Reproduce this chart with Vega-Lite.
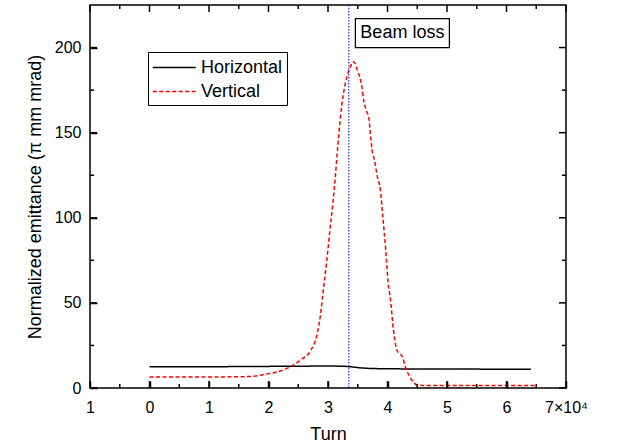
{
  "$schema": "https://vega.github.io/schema/vega-lite/v6.json",
  "width": 476,
  "height": 383,
  "autosize": {"type": "none"},
  "padding": {"left": 90, "top": 5, "right": 57, "bottom": 59},
  "background": "white",
  "config": {
    "view": {"stroke": "black", "strokeWidth": 1.5},
    "font": "Liberation Sans"
  },
  "datasets": {
    "xmaj": [{"v": -1}, {"v": 0}, {"v": 1}, {"v": 2}, {"v": 3}, {"v": 4}, {"v": 5}, {"v": 6}, {"v": 7}],
    "xmin": [{"v": -0.5}, {"v": 0.5}, {"v": 1.5}, {"v": 2.5}, {"v": 3.5}, {"v": 4.5}, {"v": 5.5}, {"v": 6.5}],
    "ymaj": [{"v": 0}, {"v": 50}, {"v": 100}, {"v": 150}, {"v": 200}],
    "ymin": [{"v": 25}, {"v": 75}, {"v": 125}, {"v": 175}],
    "emit": [
      {"turn": 0, "value": 12.5, "series": "Horizontal"},
      {"turn": 0.5, "value": 12.5, "series": "Horizontal"},
      {"turn": 1, "value": 12.5, "series": "Horizontal"},
      {"turn": 1.5, "value": 12.6, "series": "Horizontal"},
      {"turn": 2, "value": 12.7, "series": "Horizontal"},
      {"turn": 2.5, "value": 12.8, "series": "Horizontal"},
      {"turn": 3, "value": 12.9, "series": "Horizontal"},
      {"turn": 3.3, "value": 12.7, "series": "Horizontal"},
      {"turn": 3.5, "value": 12.0, "series": "Horizontal"},
      {"turn": 3.7, "value": 11.5, "series": "Horizontal"},
      {"turn": 4, "value": 11.3, "series": "Horizontal"},
      {"turn": 4.5, "value": 11.2, "series": "Horizontal"},
      {"turn": 5, "value": 11.2, "series": "Horizontal"},
      {"turn": 5.5, "value": 11.1, "series": "Horizontal"},
      {"turn": 6, "value": 11.0, "series": "Horizontal"},
      {"turn": 6.41, "value": 11.0, "series": "Horizontal"},
      {"turn": 0, "value": 6.5, "series": "Vertical"},
      {"turn": 0.5, "value": 6.5, "series": "Vertical"},
      {"turn": 1, "value": 6.5, "series": "Vertical"},
      {"turn": 1.5, "value": 6.6, "series": "Vertical"},
      {"turn": 1.7, "value": 6.8, "series": "Vertical"},
      {"turn": 1.97, "value": 8.2, "series": "Vertical"},
      {"turn": 2.2, "value": 10, "series": "Vertical"},
      {"turn": 2.37, "value": 12.5, "series": "Vertical"},
      {"turn": 2.54, "value": 16.5, "series": "Vertical"},
      {"turn": 2.71, "value": 22, "series": "Vertical"},
      {"turn": 2.82, "value": 32, "series": "Vertical"},
      {"turn": 2.87, "value": 42, "series": "Vertical"},
      {"turn": 2.92, "value": 57, "series": "Vertical"},
      {"turn": 2.98, "value": 75, "series": "Vertical"},
      {"turn": 3.03, "value": 92, "series": "Vertical"},
      {"turn": 3.08, "value": 108, "series": "Vertical"},
      {"turn": 3.12, "value": 123, "series": "Vertical"},
      {"turn": 3.16, "value": 140, "series": "Vertical"},
      {"turn": 3.21, "value": 159.6, "series": "Vertical"},
      {"turn": 3.26, "value": 173, "series": "Vertical"},
      {"turn": 3.32, "value": 183, "series": "Vertical"},
      {"turn": 3.38, "value": 189, "series": "Vertical"},
      {"turn": 3.42, "value": 191.6, "series": "Vertical"},
      {"turn": 3.45, "value": 191, "series": "Vertical"},
      {"turn": 3.49, "value": 187, "series": "Vertical"},
      {"turn": 3.53, "value": 183, "series": "Vertical"},
      {"turn": 3.57, "value": 177, "series": "Vertical"},
      {"turn": 3.6, "value": 169, "series": "Vertical"},
      {"turn": 3.64, "value": 163.5, "series": "Vertical"},
      {"turn": 3.69, "value": 157.6, "series": "Vertical"},
      {"turn": 3.71, "value": 150, "series": "Vertical"},
      {"turn": 3.74, "value": 140, "series": "Vertical"},
      {"turn": 3.78, "value": 134, "series": "Vertical"},
      {"turn": 3.83, "value": 124, "series": "Vertical"},
      {"turn": 3.88, "value": 116.5, "series": "Vertical"},
      {"turn": 3.92, "value": 101, "series": "Vertical"},
      {"turn": 3.97, "value": 81, "series": "Vertical"},
      {"turn": 4.01, "value": 62, "series": "Vertical"},
      {"turn": 4.05, "value": 52, "series": "Vertical"},
      {"turn": 4.1, "value": 34, "series": "Vertical"},
      {"turn": 4.16, "value": 22, "series": "Vertical"},
      {"turn": 4.25, "value": 18.4, "series": "Vertical"},
      {"turn": 4.3, "value": 12.5, "series": "Vertical"},
      {"turn": 4.39, "value": 5.7, "series": "Vertical"},
      {"turn": 4.5, "value": 1.8, "series": "Vertical"},
      {"turn": 4.6, "value": 1.5, "series": "Vertical"},
      {"turn": 5, "value": 1.4, "series": "Vertical"},
      {"turn": 5.5, "value": 1.4, "series": "Vertical"},
      {"turn": 6, "value": 1.4, "series": "Vertical"},
      {"turn": 6.49, "value": 1.4, "series": "Vertical"}
    ]
  },
  "layer": [
    {
      "data": {"name": "emit"},
      "mark": {"type": "line", "strokeWidth": 1.5, "interpolate": "monotone"},
      "encoding": {
        "x": {
          "field": "turn", "type": "quantitative",
          "scale": {"domain": [-1, 7], "nice": false, "zero": false},
          "axis": {
            "orient": "bottom", "offset": -7,
            "title": "Turn",
            "titleFontSize": 18, "titleFontWeight": "normal", "titlePadding": 10,
            "values": [-1, 0, 1, 2, 3, 4, 5, 6, 7],
            "labelExpr": "datum.value == 7 ? '7×10⁴' : (datum.value == -1 ? '1' : format(datum.value, 'd'))",
            "labelFontSize": 16, "labelPadding": 11, "labelColor": "black",
            "tickColor": "black", "tickWidth": 1.5, "tickSize": 7,
            "domain": false, "grid": false, "labelFlush": false, "labelOverlap": false
          }
        },
        "y": {
          "field": "value", "type": "quantitative",
          "scale": {"domain": [0, 225], "nice": false},
          "axis": {
            "orient": "left", "offset": -7,
            "title": "Normalized emittance (π mm mrad)",
            "titleFontSize": 18, "titleFontWeight": "normal", "titlePadding": 10,
            "values": [0, 50, 100, 150, 200],
            "labelFontSize": 16, "labelPadding": 9, "labelColor": "black",
            "tickColor": "black", "tickWidth": 1.5, "tickSize": 7,
            "domain": false, "grid": false, "labelFlush": false, "labelOverlap": false
          }
        },
        "color": {
          "field": "series", "type": "nominal",
          "scale": {"domain": ["Horizontal", "Vertical"], "range": ["black", "#ff0000"]},
          "legend": {
            "title": null, "orient": "none", "legendX": 58, "legendY": 47,
            "strokeColor": "black", "fillColor": "white", "padding": 4,
            "labelFontSize": 18, "labelColor": "black", "labelFont": "Liberation Sans",
            "symbolType": "M-1,0H3", "symbolSize": 462, "symbolStrokeWidth": 1.5,
            "labelOffset": 26, "rowPadding": 3
          }
        },
        "strokeDash": {
          "field": "series", "type": "nominal",
          "scale": {"domain": ["Horizontal", "Vertical"], "range": [[1, 0], [4, 2.5]]},
          "legend": null
        }
      }
    },
    {
      "data": {"values": [{}]},
      "mark": {"type": "rule", "color": "#0000ff", "strokeWidth": 1, "strokeDash": [1.5, 1.5]},
      "encoding": {
        "x": {"datum": 3.35, "type": "quantitative", "axis": null}
      }
    },
    {
      "data": {"values": [{}]},
      "mark": {"type": "rect", "fill": "white", "stroke": "black", "strokeWidth": 1.2},
      "encoding": {
        "x": {"datum": 3.46, "type": "quantitative", "axis": null},
        "x2": {"datum": 5.04},
        "y": {"datum": 200, "type": "quantitative", "axis": null},
        "y2": {"datum": 217}
      }
    },
    {
      "data": {"values": [{}]},
      "mark": {"type": "text", "text": "Beam loss", "fontSize": 18, "font": "Liberation Sans", "color": "black", "align": "center", "baseline": "middle"},
      "encoding": {
        "x": {"datum": 4.25, "type": "quantitative", "axis": null},
        "y": {"datum": 208.5, "type": "quantitative", "axis": null}
      }
    },
    {
      "data": {"name": "xmaj"},
      "mark": {"type": "rule", "color": "black", "strokeWidth": 1.5},
      "encoding": {
        "x": {"field": "v", "type": "quantitative", "axis": null},
        "y": {"datum": 0, "type": "quantitative", "axis": null},
        "y2": {"datum": 4.1}
      }
    },
    {
      "data": {"name": "xmaj"},
      "mark": {"type": "rule", "color": "black", "strokeWidth": 1.5},
      "encoding": {
        "x": {"field": "v", "type": "quantitative", "axis": null},
        "y": {"datum": 225, "type": "quantitative", "axis": null},
        "y2": {"datum": 220.9}
      }
    },
    {
      "data": {"name": "xmin"},
      "mark": {"type": "rule", "color": "black", "strokeWidth": 1.5},
      "encoding": {
        "x": {"field": "v", "type": "quantitative", "axis": null},
        "y": {"datum": 0, "type": "quantitative", "axis": null},
        "y2": {"datum": 2.35}
      }
    },
    {
      "data": {"name": "xmin"},
      "mark": {"type": "rule", "color": "black", "strokeWidth": 1.5},
      "encoding": {
        "x": {"field": "v", "type": "quantitative", "axis": null},
        "y": {"datum": 225, "type": "quantitative", "axis": null},
        "y2": {"datum": 222.65}
      }
    },
    {
      "data": {"name": "ymaj"},
      "mark": {"type": "rule", "color": "black", "strokeWidth": 1.5},
      "encoding": {
        "y": {"field": "v", "type": "quantitative", "axis": null},
        "x": {"datum": -1, "type": "quantitative", "axis": null},
        "x2": {"datum": -0.882}
      }
    },
    {
      "data": {"name": "ymaj"},
      "mark": {"type": "rule", "color": "black", "strokeWidth": 1.5},
      "encoding": {
        "y": {"field": "v", "type": "quantitative", "axis": null},
        "x": {"datum": 7, "type": "quantitative", "axis": null},
        "x2": {"datum": 6.882}
      }
    },
    {
      "data": {"name": "ymin"},
      "mark": {"type": "rule", "color": "black", "strokeWidth": 1.5},
      "encoding": {
        "y": {"field": "v", "type": "quantitative", "axis": null},
        "x": {"datum": -1, "type": "quantitative", "axis": null},
        "x2": {"datum": -0.933}
      }
    },
    {
      "data": {"name": "ymin"},
      "mark": {"type": "rule", "color": "black", "strokeWidth": 1.5},
      "encoding": {
        "y": {"field": "v", "type": "quantitative", "axis": null},
        "x": {"datum": 7, "type": "quantitative", "axis": null},
        "x2": {"datum": 6.933}
      }
    }
  ],
  "resolve": {"axis": {"x": "independent", "y": "independent"}}
}
